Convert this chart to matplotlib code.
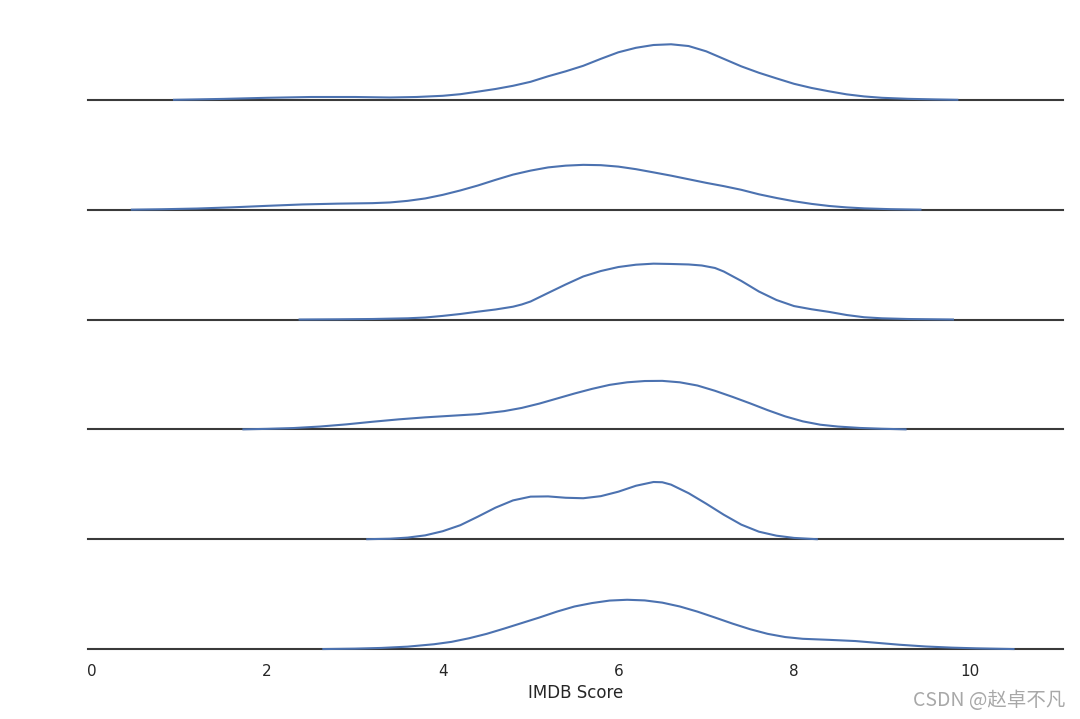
import matplotlib
matplotlib.use("Agg")
import matplotlib.pyplot as plt

# ---- data (density curves) ----
row1_x = [0.94, 1.2, 1.5, 2.0, 2.5, 3.0, 3.4, 3.7, 4.0, 4.2, 4.4, 4.6, 4.8, 5.0, 5.2, 5.4, 5.6, 5.8, 6.0, 6.2, 6.4, 6.6, 6.8, 7.0, 7.2, 7.4, 7.6, 7.8, 8.0, 8.2, 8.4, 8.6, 8.8, 9.0, 9.3, 9.6, 9.86]
row1_d = [0, 0.0025, 0.0056, 0.0125, 0.0175, 0.0175, 0.0144, 0.0175, 0.025, 0.035, 0.051, 0.0675, 0.0875, 0.1125, 0.147, 0.178, 0.2125, 0.256, 0.297, 0.325, 0.3425, 0.347, 0.336, 0.303, 0.256, 0.209, 0.169, 0.134, 0.100, 0.074, 0.053, 0.034, 0.021, 0.0125, 0.006, 0.0025, 0]

row2_x = [0.46, 0.8, 1.2, 1.6, 2.0, 2.4, 2.8, 3.2, 3.4, 3.6, 3.8, 4.0, 4.2, 4.4, 4.6, 4.8, 5.0, 5.2, 5.4, 5.6, 5.8, 6.0, 6.2, 6.4, 6.6, 6.8, 7.0, 7.2, 7.4, 7.6, 7.8, 8.0, 8.2, 8.4, 8.6, 8.8, 9.1, 9.44]
row2_d = [0, 0.0025, 0.0069, 0.0144, 0.0238, 0.0325, 0.0375, 0.0406, 0.045, 0.055, 0.07, 0.0925, 0.12, 0.151, 0.186, 0.219, 0.244, 0.264, 0.275, 0.28, 0.278, 0.269, 0.253, 0.233, 0.2125, 0.19, 0.1675, 0.147, 0.124, 0.096, 0.073, 0.0525, 0.036, 0.023, 0.014, 0.008, 0.003, 0]

row3_x = [2.37, 2.8, 3.2, 3.6, 3.8, 4.0, 4.2, 4.4, 4.6, 4.8, 4.9, 5.0, 5.2, 5.4, 5.6, 5.8, 6.0, 6.2, 6.4, 6.6, 6.8, 6.95, 7.1, 7.2, 7.4, 7.6, 7.8, 8.0, 8.2, 8.4, 8.6, 8.8, 9.0, 9.3, 9.81]
row3_d = [0, 0.00125, 0.0031, 0.0075, 0.0125, 0.0225, 0.0344, 0.049, 0.0625, 0.08, 0.094, 0.1125, 0.166, 0.219, 0.269, 0.303, 0.328, 0.3425, 0.349, 0.347, 0.344, 0.3375, 0.322, 0.30, 0.241, 0.175, 0.122, 0.084, 0.064, 0.0475, 0.028, 0.014, 0.0075, 0.003, 0]

row4_x = [1.73, 2.0, 2.3, 2.6, 2.9, 3.2, 3.5, 3.8, 4.1, 4.4, 4.7, 4.9, 5.1, 5.3, 5.5, 5.7, 5.9, 6.1, 6.3, 6.5, 6.7, 6.9, 7.1, 7.3, 7.5, 7.7, 7.9, 8.1, 8.3, 8.5, 8.75, 9.0, 9.27]
row4_d = [0, 0.0031, 0.0081, 0.0175, 0.031, 0.0475, 0.0625, 0.075, 0.085, 0.095, 0.114, 0.134, 0.161, 0.1925, 0.224, 0.253, 0.278, 0.294, 0.302, 0.303, 0.294, 0.274, 0.241, 0.203, 0.1625, 0.12, 0.081, 0.05, 0.029, 0.0175, 0.00875, 0.00375, 0]

row5_x = [3.14, 3.4, 3.6, 3.8, 4.0, 4.2, 4.4, 4.6, 4.8, 5.0, 5.2, 5.4, 5.6, 5.8, 6.0, 6.2, 6.4, 6.5, 6.6, 6.8, 7.0, 7.2, 7.4, 7.6, 7.8, 8.0, 8.26]
row5_d = [0, 0.003, 0.01, 0.024, 0.05, 0.0875, 0.141, 0.197, 0.2425, 0.266, 0.2675, 0.259, 0.256, 0.269, 0.297, 0.334, 0.3575, 0.356, 0.341, 0.2875, 0.222, 0.153, 0.091, 0.047, 0.022, 0.008, 0]

row6_x = [2.64, 3.0, 3.3, 3.6, 3.9, 4.1, 4.3, 4.5, 4.7, 4.9, 5.1, 5.3, 5.5, 5.7, 5.9, 6.1, 6.3, 6.5, 6.7, 6.9, 7.1, 7.3, 7.5, 7.7, 7.9, 8.1, 8.4, 8.7, 8.94, 9.2, 9.5, 9.8, 10.08, 10.5]
row6_d = [0, 0.0025, 0.0069, 0.015, 0.03, 0.045, 0.0675, 0.095, 0.128, 0.1625, 0.197, 0.234, 0.266, 0.2875, 0.303, 0.308, 0.304, 0.29, 0.266, 0.234, 0.197, 0.159, 0.124, 0.095, 0.075, 0.064, 0.0575, 0.05, 0.039, 0.027, 0.016, 0.00875, 0.0044, 0]

x_ticks = [0, 2, 4, 6, 8, 10]
x_label = "IMDB Score"
watermark = "CSDN @赵卓不凡"

rows = [(row1_x, row1_d), (row2_x, row2_d), (row3_x, row3_d),
        (row4_x, row4_d), (row5_x, row5_d), (row6_x, row6_d)]

# ---- layout ----
W, Hfig = 1080, 719
fig = plt.figure(figsize=(W / 100, Hfig / 100), dpi=100)
left_px, right_px = 88, 1062.7
ax_h_px = 100
px_per_unit = 160.0

for i, (xs, ds) in enumerate(rows):
    base = 99.8 + 109.85 * i
    ax = fig.add_axes([left_px / W, (Hfig - base) / Hfig,
                       (right_px - left_px) / W, ax_h_px / Hfig])
    ax.set_facecolor("none")
    ax.plot(xs, ds, color="#4c72b0", lw=1.5, clip_on=False, zorder=3,
            solid_joinstyle="round")
    ax.axhline(0, color="#3a3a3a", lw=1.5, zorder=2, clip_on=False)
    ax.set_xlim(-0.04, 11.06)
    ax.set_ylim(0, ax_h_px / px_per_unit)
    for s in ax.spines.values():
        s.set_visible(False)
    ax.set_yticks([])
    if i == len(rows) - 1:
        ax.set_xticks(x_ticks)
        ax.set_xticklabels([str(t) for t in x_ticks])
        ax.tick_params(axis="x", length=0, pad=10.5, labelsize=11, labelcolor="#262626")
        ax.set_xlabel(x_label, fontsize=12, color="#262626", labelpad=4)
    else:
        ax.set_xticks([])

fig.text(1065 / W, 1 - 700 / Hfig, watermark, ha="right", va="center",
         fontsize=14, color="#a8a8a8",
         family=["Noto Sans CJK SC", "DejaVu Sans"])

fig.savefig("out.png", dpi=100)
